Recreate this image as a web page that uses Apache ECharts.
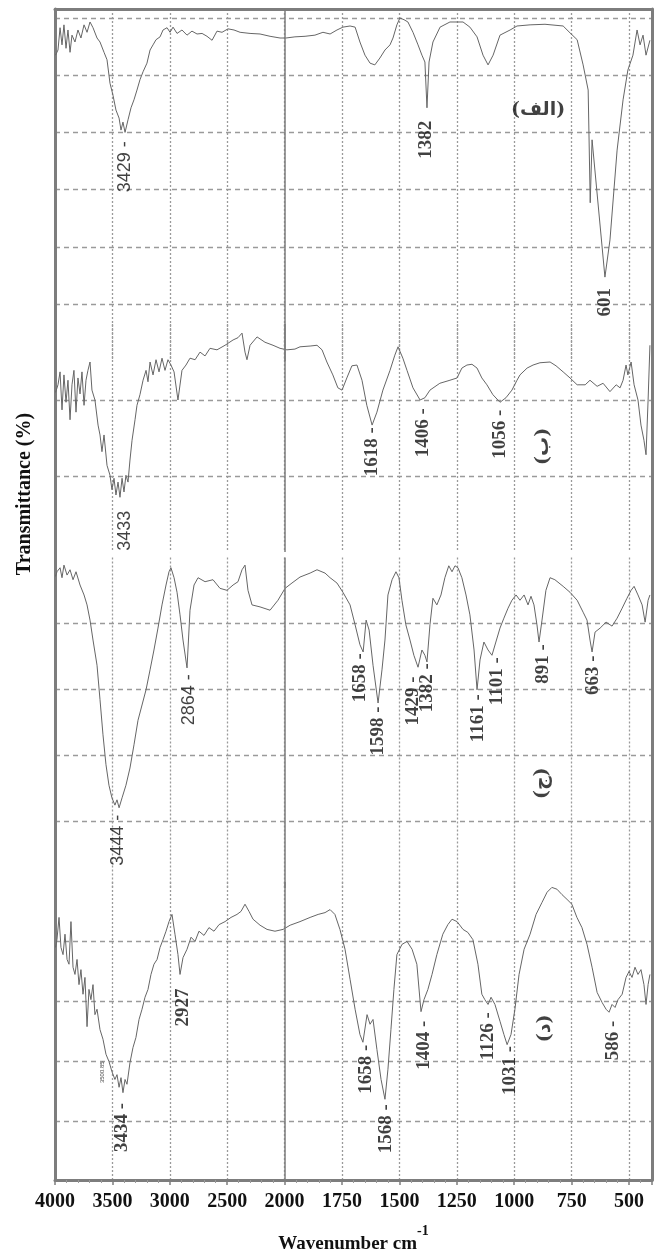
<!DOCTYPE html>
<html>
<head>
<meta charset="utf-8">
<script src="https://cdn.jsdelivr.net/npm/echarts@6/dist/echarts.min.js"></script>
<style>
html, body { margin: 0; padding: 0; background: #fff; }
#chart { width: 660px; height: 1259px; }
</style>
</head>
<body>
<div id="chart"></div>
<script>
// FTIR spectra, [wavenumber cm-1, transmittance]
var spectrumA = [[3995,53.5],[3974,54.4],[3956,58.3],[3939,55.3],[3922,58.8],[3904,54.7],[3887,57.9],[3869,54.0],[3852,57.0],[3826,55.8],[3800,57.9],[3774,56.5],[3747,58.8],[3721,57.5],[3695,59.3],[3669,58.3],[3634,56.5],[3608,55.8],[3573,54.0],[3547,52.7],[3521,48.6],[3495,46.5],[3469,43.9],[3442,42.5],[3425,40.4],[3408,41.8],[3390,40.0],[3364,42.2],[3338,44.3],[3312,45.7],[3286,47.4],[3260,49.2],[3233,50.6],[3199,52.1],[3172,54.4],[3146,55.3],[3120,56.2],[3085,56.7],[3059,57.9],[3024,58.3],[2998,57.5],[2972,58.4],[2937,57.3],[2894,57.9],[2850,57.0],[2807,57.7],[2763,57.2],[2719,57.3],[2676,56.8],[2632,56.1],[2589,57.7],[2545,57.5],[2493,58.1],[2441,57.9],[2388,57.5],[2301,57.3],[2214,57.2],[2127,56.8],[2040,56.5],[1994,56.5],[1955,56.7],[1911,56.8],[1868,57.0],[1833,57.5],[1802,57.2],[1772,57.9],[1746,58.4],[1715,58.6],[1693,58.4],[1672,55.8],[1650,53.5],[1628,52.1],[1607,51.8],[1585,53.0],[1563,54.4],[1541,55.3],[1528,56.5],[1511,58.8],[1498,60.0],[1480,59.7],[1463,59.3],[1441,57.5],[1419,55.3],[1402,53.5],[1389,52.3],[1380,44.3],[1371,52.3],[1354,55.8],[1323,58.4],[1280,59.3],[1223,59.3],[1193,58.4],[1162,56.7],[1136,53.5],[1114,51.8],[1092,53.5],[1062,57.0],[1018,57.9],[988,58.6],[931,58.8],[866,58.9],[787,58.6],[757,57.4],[726,56.2],[700,51.8],[678,47.4],[669,27.7],[661,38.7],[605,14.7],[583,21.2],[552,36.9],[526,45.7],[505,50.9],[483,53.5],[465,57.9],[452,55.3],[439,57.0],[426,53.5],[409,56.1]];

var spectrumB = [[3995,21.0],[3974,22.0],[3956,23.7],[3939,18.7],[3922,23.3],[3904,19.7],[3887,22.6],[3869,17.4],[3852,22.0],[3835,23.9],[3817,18.4],[3800,22.9],[3782,20.8],[3765,23.7],[3747,19.3],[3730,22.6],[3713,23.9],[3695,25.0],[3678,21.3],[3652,20.0],[3625,16.7],[3608,15.4],[3591,13.2],[3573,15.4],[3547,11.4],[3521,10.1],[3504,8.2],[3486,9.7],[3469,7.5],[3451,9.2],[3434,7.2],[3416,9.7],[3399,7.9],[3382,10.1],[3364,9.2],[3347,12.1],[3329,14.7],[3303,17.4],[3286,19.3],[3260,20.7],[3233,22.6],[3207,23.9],[3190,22.4],[3172,25.0],[3146,23.3],[3120,25.3],[3094,23.7],[3068,25.5],[3042,23.9],[3016,25.3],[2990,24.6],[2963,23.7],[2929,20.0],[2894,23.9],[2859,24.6],[2824,25.5],[2780,25.3],[2737,26.3],[2693,25.8],[2650,26.8],[2589,26.6],[2519,27.2],[2449,27.9],[2406,28.2],[2371,28.8],[2345,26.3],[2328,25.3],[2301,27.2],[2240,28.3],[2171,27.6],[2101,27.2],[2040,26.8],[1990,26.6],[1955,26.7],[1933,27.0],[1889,27.1],[1859,27.2],[1837,26.6],[1816,25.0],[1790,23.3],[1768,21.6],[1750,21.3],[1729,22.9],[1707,24.5],[1685,24.6],[1663,22.6],[1642,19.3],[1619,16.7],[1598,18.4],[1572,21.3],[1541,23.9],[1520,25.9],[1506,27.0],[1485,25.5],[1467,23.9],[1441,21.6],[1410,20.0],[1389,20.3],[1367,21.3],[1324,22.2],[1280,22.6],[1249,22.9],[1228,24.2],[1206,24.6],[1184,24.7],[1162,24.2],[1141,22.9],[1119,22.0],[1093,20.7],[1062,19.7],[1036,20.3],[1010,21.3],[988,22.6],[975,23.3],[944,24.2],[918,24.6],[888,24.9],[844,25.0],[818,24.5],[787,23.7],[757,22.9],[726,22.0],[691,22.0],[670,22.6],[639,21.8],[613,22.2],[583,21.1],[556,22.0],[539,21.6],[526,22.6],[513,24.6],[505,23.3],[491,25.0],[478,22.0],[461,20.0],[448,16.7],[435,14.7],[426,12.8],[417,20.0],[409,27.2]];

var spectrumC = [[3995,47.0],[3983,47.7],[3956,48.3],[3939,46.8],[3922,48.7],[3895,47.2],[3869,48.0],[3843,46.5],[3817,47.7],[3782,45.7],[3747,44.2],[3721,42.7],[3695,40.4],[3669,37.4],[3634,33.6],[3608,28.4],[3582,23.1],[3556,18.6],[3530,15.5],[3504,13.6],[3478,12.5],[3460,13.3],[3442,12.1],[3416,13.6],[3382,15.5],[3347,18.1],[3312,21.6],[3277,25.3],[3242,27.6],[3207,29.9],[3172,32.9],[3138,35.9],[3103,39.2],[3068,42.7],[3033,45.7],[3007,47.7],[2990,48.3],[2963,46.8],[2937,44.6],[2911,41.2],[2885,37.4],[2850,33.2],[2824,41.9],[2789,45.7],[2754,46.8],[2693,46.2],[2624,46.5],[2563,45.2],[2502,44.9],[2449,45.7],[2406,46.2],[2371,48.0],[2345,48.7],[2319,44.9],[2284,42.7],[2214,42.4],[2127,41.9],[2058,43.4],[1998,45.2],[1968,46.0],[1933,46.9],[1889,47.5],[1859,48.0],[1824,47.5],[1802,46.8],[1772,46.0],[1746,44.6],[1715,42.7],[1693,39.7],[1672,36.7],[1658,35.6],[1645,40.4],[1632,38.9],[1615,33.6],[1593,27.9],[1576,32.9],[1563,37.4],[1550,44.2],[1532,46.5],[1515,47.7],[1502,46.8],[1489,43.4],[1472,39.7],[1454,37.4],[1437,35.1],[1419,33.3],[1402,35.9],[1389,35.1],[1380,34.1],[1367,39.7],[1354,43.7],[1337,42.7],[1319,44.2],[1302,46.8],[1285,48.6],[1271,47.7],[1258,48.6],[1245,48.3],[1228,46.8],[1210,44.2],[1193,41.2],[1175,35.9],[1162,29.9],[1149,34.4],[1132,37.1],[1114,35.9],[1097,35.1],[1080,37.1],[1062,39.2],[1045,40.7],[1027,42.2],[1010,43.4],[992,44.2],[975,43.4],[957,44.2],[940,42.7],[927,44.0],[914,42.7],[901,39.7],[892,37.1],[879,40.4],[862,44.9],[844,46.8],[823,46.5],[787,45.5],[757,44.6],[726,43.4],[700,41.6],[683,40.4],[670,37.4],[661,35.6],[648,38.6],[626,39.2],[600,40.1],[574,39.5],[552,40.7],[530,42.2],[509,43.7],[491,44.9],[478,45.5],[461,44.2],[443,42.7],[430,40.1],[417,43.4],[409,44.2]];

var spectrumD = [[3995,39.0],[3983,40.3],[3965,44.0],[3948,39.0],[3930,37.8],[3913,41.2],[3895,37.0],[3878,36.2],[3861,43.3],[3843,35.7],[3826,34.5],[3808,37.0],[3791,32.8],[3774,35.3],[3756,31.2],[3739,34.0],[3721,25.8],[3704,32.0],[3687,30.3],[3669,32.8],[3652,27.8],[3634,28.7],[3608,25.3],[3582,23.7],[3556,21.2],[3530,20.0],[3504,18.3],[3478,17.0],[3460,17.8],[3442,15.7],[3425,17.3],[3408,14.8],[3390,17.0],[3373,16.2],[3347,19.8],[3321,22.3],[3295,24.0],[3268,27.0],[3242,28.7],[3216,30.7],[3190,32.0],[3164,34.5],[3138,36.2],[3111,37.0],[3085,39.0],[3059,40.3],[3033,41.7],[3007,43.3],[2981,44.5],[2955,41.2],[2929,37.8],[2911,34.5],[2885,37.3],[2850,38.7],[2815,40.7],[2780,40.0],[2746,41.7],[2702,41.0],[2659,42.3],[2615,41.7],[2571,42.8],[2519,43.3],[2467,44.0],[2415,44.5],[2380,45.0],[2345,46.2],[2310,45.0],[2275,43.7],[2214,42.7],[2153,42.0],[2084,41.7],[2014,42.0],[1976,42.7],[1933,43.3],[1889,44.0],[1854,44.5],[1824,44.8],[1802,45.3],[1781,44.5],[1759,42.0],[1737,38.7],[1715,33.7],[1693,28.7],[1672,24.5],[1659,23.2],[1641,27.8],[1628,26.2],[1615,27.0],[1598,22.0],[1580,17.0],[1563,13.7],[1550,18.7],[1537,25.3],[1524,32.0],[1511,37.8],[1489,39.5],[1467,40.0],[1445,38.7],[1424,36.2],[1406,28.3],[1393,30.3],[1376,32.0],[1358,34.5],[1337,37.8],[1311,41.2],[1289,42.8],[1271,43.7],[1249,43.3],[1223,42.0],[1202,41.5],[1180,40.3],[1158,36.2],[1141,31.2],[1128,30.3],[1114,29.5],[1101,30.7],[1084,29.5],[1062,26.7],[1045,24.5],[1031,22.8],[1014,24.5],[997,28.7],[979,34.5],[957,38.7],[931,41.2],[905,44.5],[879,46.5],[857,48.2],[836,49.0],[814,48.7],[792,47.8],[770,47.0],[749,46.2],[727,44.0],[705,42.3],[683,39.5],[661,35.7],[639,31.5],[617,29.8],[600,28.7],[587,28.2],[574,29.5],[561,29.0],[548,30.3],[530,31.2],[513,34.0],[500,35.0],[487,34.0],[474,35.7],[461,34.5],[448,35.3],[435,32.8],[426,29.5],[417,32.8],[409,34.5]];

// peak annotations: [text, wavenumber, transmittance, font kind]
var labelsA = [['3429 -', 3390, 34.0, 'sans'], ['1382', 1384, 38.7, 'serif'], ['601', 605, 10.3, 'serif'], ['(الف)', 896, 43.9, 'tag']];
var labelsB = [['3433', 3390, 2.8, 'sans'], ['1618 -', 1619, 13.2, 'serif'], ['1406 -', 1397, 15.7, 'serif'], ['1056 -', 1062, 15.5, 'serif'], ['(ب)', 875, 13.9, 'tagv']];
var labelsC = [['3444 -', 3451, 7.2, 'sans'], ['2864 -', 2833, 28.4, 'sans'], ['1658 -', 1672, 31.7, 'serif'], ['1598 -', 1593, 23.7, 'serif'], ['1429 -', 1441, 28.2, 'serif'], ['1382 -', 1380, 30.2, 'serif'], ['1161 -', 1158, 25.6, 'serif'], ['1101 -', 1075, 31.2, 'serif'], ['891 -', 875, 33.8, 'serif'], ['663 -', 657, 32.1, 'serif'], ['(ج)', 879, 15.8, 'tagv']];
var labelsD = [['3434 -', 3416, 9.0, 'serif'], ['2927', 2885, 29.0, 'serif'], ['3500.85', 3591, 18.2, 'tiny'], ['1658 -', 1645, 18.7, 'serif'], ['1568 -', 1558, 8.8, 'serif'], ['1404 -', 1393, 22.7, 'serif'], ['1126 -', 1114, 24.2, 'serif'], ['1031 -', 1018, 18.5, 'serif'], ['586 -', 570, 23.5, 'serif'], ['(د)', 866, 25.5, 'tagv']];

var xTickValues = [4000, 3500, 3000, 2500, 2000, 1750, 1500, 1250, 1000, 750, 500];

// axis is compressed 2x above 2000 cm-1
function toAxis(w) { return w >= 2000 ? (4000 - w) / 2 : 3000 - w; }
function fromAxis(u) { return u <= 1000 ? 4000 - 2 * u : 3000 - u; }

var chart = echarts.init(document.getElementById('chart'));

var fontKinds = {
    sans: { fontFamily: '"Liberation Sans", Arial, sans-serif', fontWeight: 'normal', fontSize: 18, rotate: 90 },
    serif: { fontFamily: '"Liberation Serif", "Times New Roman", serif', fontWeight: 'bold', fontSize: 19, rotate: 90 },
    tiny: { fontFamily: '"Liberation Sans", sans-serif', fontWeight: 'normal', fontSize: 6, rotate: 90 },
    tag: { fontFamily: '"DejaVu Serif", "DejaVu Sans", serif', fontWeight: 'bold', fontSize: 19, rotate: 0 },
    tagv: { fontFamily: '"DejaVu Serif", "DejaVu Sans", serif', fontWeight: 'bold', fontSize: 19, rotate: 90 }
};

var panels = [
    { spectrum: spectrumA, labels: labelsA, top: 9, height: 352.2, max: 61.57 },
    { spectrum: spectrumB, labels: labelsB, top: 324, height: 228, max: 30 },
    { spectrum: spectrumC, labels: labelsC, top: 557.5, height: 330.5, max: 49.85 },
    { spectrum: spectrumD, labels: labelsD, top: 882, height: 299.5, max: 49.9 }
];

var gridColor = '#9a9a9a';
var frameColor = '#7d7d7d';
var grids = [], xAxes = [], yAxes = [], series = [];

panels.forEach(function (p, i) {
    grids.push({ left: 55, right: 8, top: p.top, height: p.height });
    xAxes.push({
        gridIndex: i, type: 'value', min: 0, max: 2600, interval: 250,
        axisLine: { show: false }, axisTick: { show: false }, axisLabel: { show: false },
        splitLine: { show: true, showMinLine: false, showMaxLine: false,
            lineStyle: { color: gridColor, type: [2, 2], width: 1.3 } }
    });
    yAxes.push({
        gridIndex: i, type: 'value', min: 0, max: p.max, interval: 10,
        axisLine: { show: false }, axisTick: { show: false }, axisLabel: { show: false },
        splitLine: { show: true, showMinLine: false, showMaxLine: false,
            lineStyle: { color: gridColor, type: [5, 4], width: 1.3 } }
    });
    series.push({
        type: 'line', xAxisIndex: i, yAxisIndex: i,
        data: p.spectrum.map(function (d) { return [toAxis(d[0]), d[1]]; }),
        symbol: 'none', showSymbol: false, clip: false, silent: true, animation: false,
        lineStyle: { color: '#666', width: 1 },
        markLine: {
            silent: true, symbol: 'none', label: { show: false }, animation: false,
            lineStyle: { color: frameColor, type: 'solid', width: 1.5 },
            data: [{ xAxis: toAxis(2000) }]
        }
    });
    series.push({
        type: 'scatter', xAxisIndex: i, yAxisIndex: i, symbolSize: 1, silent: true, animation: false,
        itemStyle: { color: 'rgba(0,0,0,0)' },
        data: p.labels.map(function (l) {
            var f = fontKinds[l[3]];
            return {
                name: l[0], value: [toAxis(l[1]), l[2]],
                label: { show: true, position: 'inside', formatter: '{b}', color: '#111',
                    rotate: f.rotate, fontSize: f.fontSize, fontFamily: f.fontFamily, fontWeight: f.fontWeight }
            };
        })
    });
});

// outer frame with the wavenumber axis
grids.push({ left: 55, right: 8, top: 9, bottom: 78 });
xAxes.push({
    gridIndex: 4, type: 'value', min: 0, max: 2600, interval: 250, position: 'bottom',
    axisLine: { onZero: false, lineStyle: { color: frameColor, width: 3 } },
    axisTick: { show: true, length: 5, lineStyle: { color: frameColor, width: 1.5 } },
    minorTick: { show: true, splitNumber: 5, length: 3, lineStyle: { color: '#999', width: 1 } },
    splitLine: { show: false },
    axisLabel: {
        margin: 12, color: '#111', fontSize: 20, fontWeight: 'bold',
        fontFamily: '"Liberation Serif", "Times New Roman", serif',
        formatter: function (v) {
            var w = fromAxis(v);
            return xTickValues.indexOf(w) >= 0 ? String(w) : '';
        }
    },
    name: '{a|Wavenumber cm}{s|-1}', nameLocation: 'middle', nameGap: 44,
    nameTextStyle: {
        rich: {
            a: { fontSize: 19, fontWeight: 'bold', fontFamily: '"Liberation Serif", serif', color: '#111',
                lineHeight: 30, verticalAlign: 'bottom' },
            s: { fontSize: 14, fontWeight: 'bold', fontFamily: '"Liberation Serif", serif', color: '#111',
                lineHeight: 30, verticalAlign: 'top' }
        }
    }
});
xAxes.push({
    gridIndex: 4, type: 'value', min: 0, max: 2600, position: 'top',
    axisLine: { onZero: false, lineStyle: { color: frameColor, width: 3 } },
    axisTick: { show: false }, axisLabel: { show: false }, splitLine: { show: false }
});
['left', 'right'].forEach(function (pos) {
    yAxes.push({
        gridIndex: 4, type: 'value', min: 0, max: 1, position: pos,
        axisLine: { show: true, onZero: false, lineStyle: { color: frameColor, width: 3 } },
        axisTick: { show: false }, axisLabel: { show: false }, splitLine: { show: false }
    });
});

var option = {
    backgroundColor: '#fff',
    animation: false,
    grid: grids,
    xAxis: xAxes,
    yAxis: yAxes,
    series: series,
    graphic: [{
        type: 'text', x: 25, y: 494, rotation: Math.PI / 2,
        style: {
            text: 'Transmittance (%)', fill: '#111',
            font: 'bold 20px "Liberation Serif", "Times New Roman", serif',
            align: 'center', verticalAlign: 'middle'
        }
    }]
};

chart.setOption(option);
</script>
</body>
</html>
